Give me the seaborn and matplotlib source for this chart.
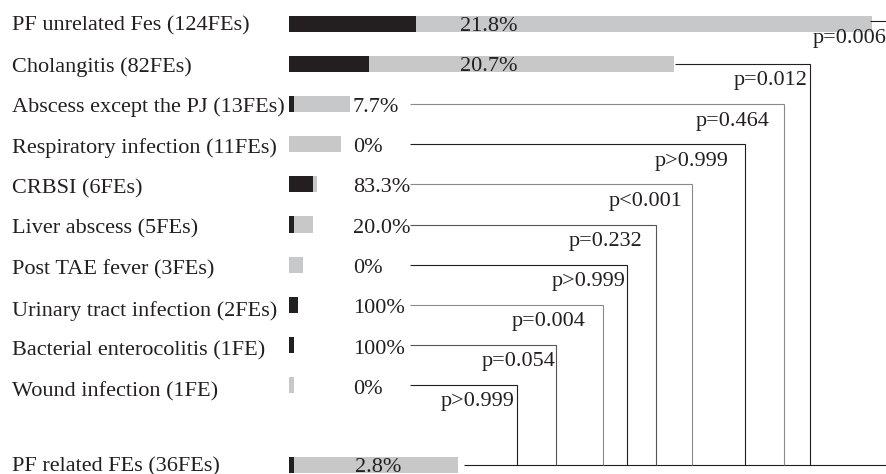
import numpy as np
import pandas as pd
import matplotlib
matplotlib.use("Agg")
import matplotlib.pyplot as plt
import seaborn as sns

# ---------------- data ----------------
categories = [
    "PF unrelated Fes (124FEs)",
    "Cholangitis (82FEs)",
    "Abscess except the PJ (13FEs)",
    "Respiratory infection (11FEs)",
    "CRBSI (6FEs)",
    "Liver abscess (5FEs)",
    "Post TAE fever (3FEs)",
    "Urinary tract infection (2FEs)",
    "Bacterial enterocolitis (1FE)",
    "Wound infection (1FE)",
    "PF related FEs (36FEs)",
]
n_fe = [124, 82, 13, 11, 6, 5, 3, 2, 1, 1, 36]
n_positive = [27, 17, 1, 0, 5, 1, 0, 2, 1, 0, 1]
pct_labels = ["21.8%", "20.7%", "7.7%", "0%", "83.3%", "20.0%", "0%",
              "100%", "100%", "0%", "2.8%"]
p_labels = ["p=0.006", "p=0.012", "p=0.464", "p>0.999", "p<0.001",
            "p=0.232", "p>0.999", "p=0.004", "p=0.054", "p>0.999"]

# ---------------- layout ----------------
PX = 4.70            # pixels per FE
X0 = 289             # pixel of zero
W, H = 887, 474
ROW_PX = 40.1
ROW0_PX = 24

def dx(px):
    return (px - X0) / PX

row_pos = list(range(10)) + [11]
ref_row = 11
pct_x_px = [460, 460, 353, 353, 353, 353, 353, 353, 353, 353, 355]
line_start_px = [870, 675, 410, 410, 410, 410, 410, 410, 410, 410, 464]
bracket_px = [905, 810, 784, 745, 692, 656, 627, 603, 556, 517]
plabel_end_px = [887, 808, 770, 729, 683, 642, 626, 586, 556, 515]
line_colors = ["#231f20", "#231f20", "#8a8a8a", "#231f20", "#8a8a8a",
               "#555555", "#231f20", "#8a8a8a", "#555555", "#231f20"]

BLACK = "#231f20"
GRAY = "#c7c8ca"

sns.set_theme(style="white")
plt.rcParams["font.family"] = ["Liberation Serif", "DejaVu Serif"]

fig = plt.figure(figsize=(W / 100, H / 100), dpi=100)
ax = fig.add_axes([0, 0, 1, 1])

df = pd.DataFrame({"pos": row_pos, "total": n_fe, "positive": n_positive})
sns.barplot(data=df, x="total", y="pos", orient="h", native_scale=True,
            color=GRAY, width=0.4, saturation=1, errorbar=None, ax=ax,
            linewidth=0)
sns.barplot(data=df, x="positive", y="pos", orient="h", native_scale=True,
            color=BLACK, width=0.4, saturation=1, errorbar=None, ax=ax,
            linewidth=0)

ax.set_xlim(dx(0), dx(W))
ax.set_ylim((H - ROW0_PX) / ROW_PX, -ROW0_PX / ROW_PX)
ax.axis("off")

FS = 16
for i, (cat, pos) in enumerate(zip(categories, row_pos)):
    drift = pos if pos < ref_row else 0
    ax.text(dx(12), pos + 0.05 + 0.0137 * drift, cat, ha="left", va="center",
            fontsize=FS, color="#231f20")
    ax.text(dx(pct_x_px[i]), pos + 0.06 + 0.006 * drift, pct_labels[i],
            ha="left", va="center", fontsize=FS, color="#231f20")

lw = 0.8
# bottom reference line
ax.plot([dx(line_start_px[-1]), dx(W + 5)], [ref_row, ref_row],
        color=BLACK, lw=lw, solid_capstyle="butt")
for i, pl in enumerate(p_labels):
    pos = row_pos[i]
    xs = dx(line_start_px[i])
    xb = dx(bracket_px[i])
    yl = pos - 0.07 if i == 0 else pos
    ax.plot([xs, xb, xb], [yl, yl, ref_row], color=line_colors[i], lw=lw,
            solid_capstyle="butt", solid_joinstyle="miter")
    ax.text(dx(plabel_end_px[i]), yl + 0.42, pl, ha="right", va="center",
            fontsize=FS, color="#231f20")

fig.savefig("out.png", dpi=100)
